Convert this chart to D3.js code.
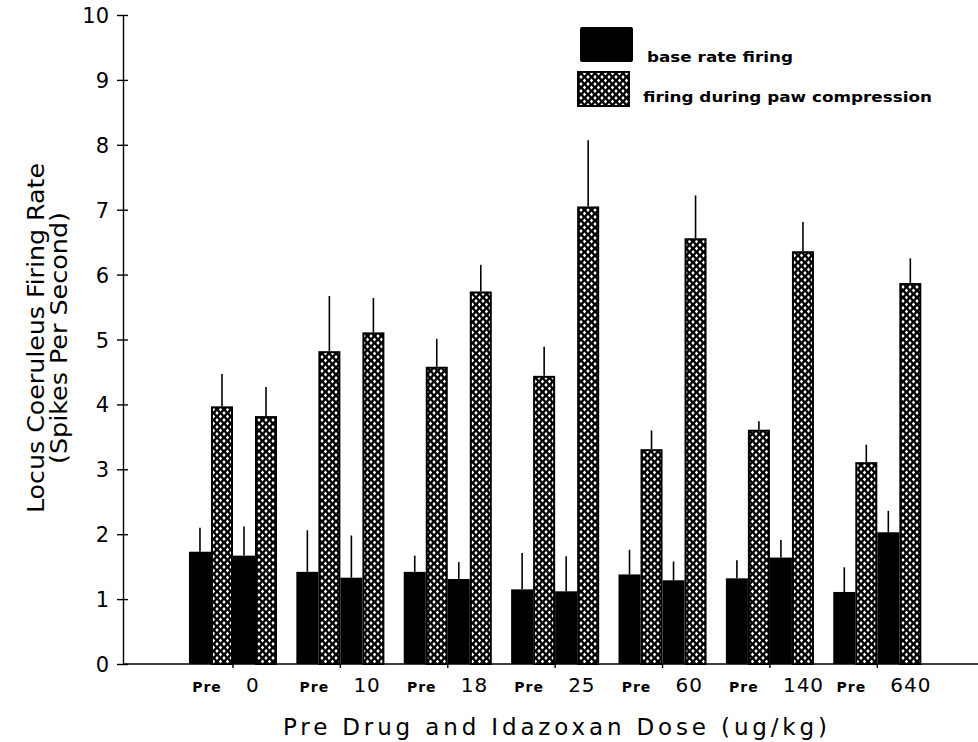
<!DOCTYPE html>
<html>
<head>
<meta charset="utf-8">
<script src="https://cdn.jsdelivr.net/npm/d3@7"></script>
<style>
  body { margin: 0; background: #fff; }
  svg { display: block; }
</style>
</head>
<body>
<div id="chart"></div>
<script>
// data
var doses = ["0", "10", "18", "25", "60", "140", "640"];
var series = ["preBase", "prePaw", "doseBase", "dosePaw"];
var preBase  = [1.73, 1.42, 1.42, 1.15, 1.38, 1.32, 1.11];
var prePaw   = [3.97, 4.82, 4.58, 4.44, 3.31, 3.61, 3.11];
var doseBase = [1.67, 1.33, 1.31, 1.12, 1.29, 1.64, 2.03];
var dosePaw  = [3.82, 5.11, 5.74, 7.05, 6.56, 6.36, 5.87];
var preBaseErr  = [0.37, 0.64, 0.25, 0.56, 0.38, 0.28, 0.38];
var prePawErr   = [0.50, 0.85, 0.43, 0.45, 0.29, 0.13, 0.27];
var doseBaseErr = [0.45, 0.65, 0.26, 0.54, 0.29, 0.27, 0.33];
var dosePawErr  = [0.45, 0.53, 0.41, 1.02, 0.66, 0.45, 0.38];
var yTicks = [0, 1, 2, 3, 4, 5, 6, 7, 8, 9, 10];
var legendLabels = ["base rate firing", "firing during paw compression"];

var W = 978, H = 742;
var axisX = 123, axisY = 664;

var svg = d3.select("#chart")
  .append("svg")
    .attr("width", W)
    .attr("height", H);

// crosshatch pattern: black ground with small white diamond holes
var defs = svg.append("defs");
var pat = defs.append("pattern")
    .attr("id", "hatch")
    .attr("patternUnits", "userSpaceOnUse")
    .attr("width", 7)
    .attr("height", 7);
pat.append("rect").attr("width", 7).attr("height", 7).attr("fill", "#000");
[[3.5, 3.5], [0, 0], [7, 0], [0, 7], [7, 7]].forEach(function(c) {
  pat.append("polygon")
    .attr("points", [
      [c[0], c[1] - 2.0], [c[0] + 1.7, c[1]], [c[0], c[1] + 2.0], [c[0] - 1.7, c[1]]
    ].map(function(p) { return p.join(","); }).join(" "))
    .attr("fill", "#fff");
});

// scales
var x = d3.scaleBand()
  .domain(doses)
  .range([179.3, 931])
  .paddingInner(0.18)
  .paddingOuter(0.09);

var xSub = d3.scaleBand()
  .domain(series)
  .range([0, x.bandwidth()]);

var y = d3.scaleLinear()
  .domain([0, 10])
  .range([axisY, 15]);

// table of bars
var rows = [];
doses.forEach(function(d, i) {
  rows.push({dose: d, s: "preBase",  v: preBase[i],  e: preBaseErr[i]});
  rows.push({dose: d, s: "prePaw",   v: prePaw[i],   e: prePawErr[i]});
  rows.push({dose: d, s: "doseBase", v: doseBase[i], e: doseBaseErr[i]});
  rows.push({dose: d, s: "dosePaw",  v: dosePaw[i],  e: dosePawErr[i]});
});
function isPaw(s) { return s == "prePaw" || s == "dosePaw"; }

// error bars (drawn first, bars sit on top)
svg.append("g")
  .selectAll("line")
  .data(rows)
  .enter()
  .append("line")
    .attr("x1", function(d) { return x(d.dose) + xSub(d.s) + xSub.bandwidth() / 2; })
    .attr("x2", function(d) { return x(d.dose) + xSub(d.s) + xSub.bandwidth() / 2; })
    .attr("y1", function(d) { return y(d.v); })
    .attr("y2", function(d) { return y(d.v + d.e); })
    .attr("stroke", "#000")
    .attr("stroke-width", 1.6);

// bars
svg.append("g")
  .selectAll("rect")
  .data(rows)
  .enter()
  .append("rect")
    .attr("x", function(d) { return x(d.dose) + xSub(d.s) + (isPaw(d.s) ? 1 : 0); })
    .attr("y", function(d) { return y(d.v) + (isPaw(d.s) ? 1 : 0); })
    .attr("width", function(d) { return xSub.bandwidth() - (isPaw(d.s) ? 2 : 0); })
    .attr("height", function(d) { return y(0) - y(d.v) - (isPaw(d.s) ? 1 : 0); })
    .attr("fill", function(d) { return isPaw(d.s) ? "url(#hatch)" : "#000"; })
    .attr("stroke", function(d) { return isPaw(d.s) ? "#000" : "none"; })
    .attr("stroke-width", 2);

// y axis
var yAxis = svg.append("g")
  .attr("transform", "translate(" + axisX + ",0)")
  .call(d3.axisLeft(y).tickValues(yTicks).tickSize(6).tickSizeOuter(0));
yAxis.select(".domain").attr("stroke", "#000").attr("stroke-width", 1.4);
yAxis.selectAll(".tick line")
  .attr("x1", 5)
  .attr("x2", -6)
  .attr("stroke", "#000")
  .attr("stroke-width", 1.4);
yAxis.selectAll(".tick text")
  .attr("x", -14)
  .attr("dy", "0.36em")
  .style("font-family", "'DejaVu Sans', sans-serif")
  .style("font-size", "21px")
  .style("fill", "#000");

// x axis line across the full width
svg.append("line")
  .attr("x1", axisX).attr("x2", W)
  .attr("y1", axisY).attr("y2", axisY)
  .attr("stroke", "#000")
  .attr("stroke-width", 1.4);

var xAxis = svg.append("g")
  .attr("transform", "translate(0," + axisY + ")")
  .call(d3.axisBottom(x).tickSize(4).tickFormat(""));
xAxis.select(".domain").remove();
xAxis.selectAll(".tick line").attr("stroke", "#000").attr("stroke-width", 1.4);

// category labels under each group
var labs = svg.append("g");
labs.selectAll("text.pre")
  .data(doses)
  .enter()
  .append("text")
    .attr("class", "pre")
    .attr("x", function(d) { return x(d) + x.bandwidth() / 2 - 26; })
    .attr("y", 692)
    .attr("text-anchor", "middle")
    .style("font-family", "'DejaVu Sans', sans-serif")
    .style("font-weight", "bold")
    .style("font-size", "14px")
    .style("letter-spacing", "1px")
    .text("Pre");
labs.selectAll("text.dose")
  .data(doses)
  .enter()
  .append("text")
    .attr("class", "dose")
    .attr("x", function(d) { return x(d) + x.bandwidth() / 2 + 13; })
    .attr("y", 692)
    .attr("text-anchor", "start")
    .style("font-family", "'DejaVu Sans', sans-serif")
    .style("font-size", "20px")
    .style("letter-spacing", "1px")
    .text(function(d) { return d; });

// axis titles
svg.append("text")
  .attr("x", 283)
  .attr("y", 735)
  .attr("textLength", 544)
  .attr("lengthAdjust", "spacing")
  .style("font-family", "'DejaVu Sans', sans-serif")
  .style("font-size", "23px")
  .text("Pre Drug and Idazoxan Dose (ug/kg)");

svg.append("text")
  .attr("transform", "translate(44,338) rotate(-90)")
  .attr("text-anchor", "middle")
  .attr("textLength", 350)
  .attr("lengthAdjust", "spacingAndGlyphs")
  .style("font-family", "'Liberation Sans Narrow', 'DejaVu Sans Condensed', sans-serif")
  .style("font-size", "23px")
  .text("Locus Coeruleus Firing Rate");

svg.append("text")
  .attr("transform", "translate(67,338) rotate(-90)")
  .attr("text-anchor", "middle")
  .attr("textLength", 252)
  .attr("lengthAdjust", "spacingAndGlyphs")
  .style("font-family", "'Liberation Sans Narrow', 'DejaVu Sans Condensed', sans-serif")
  .style("font-size", "23px")
  .text("(Spikes Per Second)");

// legend
var legend = svg.append("g");
legend.append("rect")
  .attr("x", 580).attr("y", 27)
  .attr("width", 53).attr("height", 35)
  .attr("rx", 2)
  .attr("fill", "#000");
legend.append("rect")
  .attr("x", 578).attr("y", 72)
  .attr("width", 51).attr("height", 34)
  .attr("fill", "url(#hatch)")
  .attr("stroke", "#000")
  .attr("stroke-width", 2);
legend.append("text")
  .attr("x", 647).attr("y", 62)
  .attr("textLength", 146)
  .attr("lengthAdjust", "spacingAndGlyphs")
  .style("font-family", "'DejaVu Sans', sans-serif")
  .style("font-weight", "bold")
  .style("font-size", "14px")
  .text(legendLabels[0]);
legend.append("text")
  .attr("x", 643).attr("y", 102)
  .attr("textLength", 289)
  .attr("lengthAdjust", "spacingAndGlyphs")
  .style("font-family", "'DejaVu Sans', sans-serif")
  .style("font-weight", "bold")
  .style("font-size", "14px")
  .text(legendLabels[1]);
</script>
</body>
</html>
